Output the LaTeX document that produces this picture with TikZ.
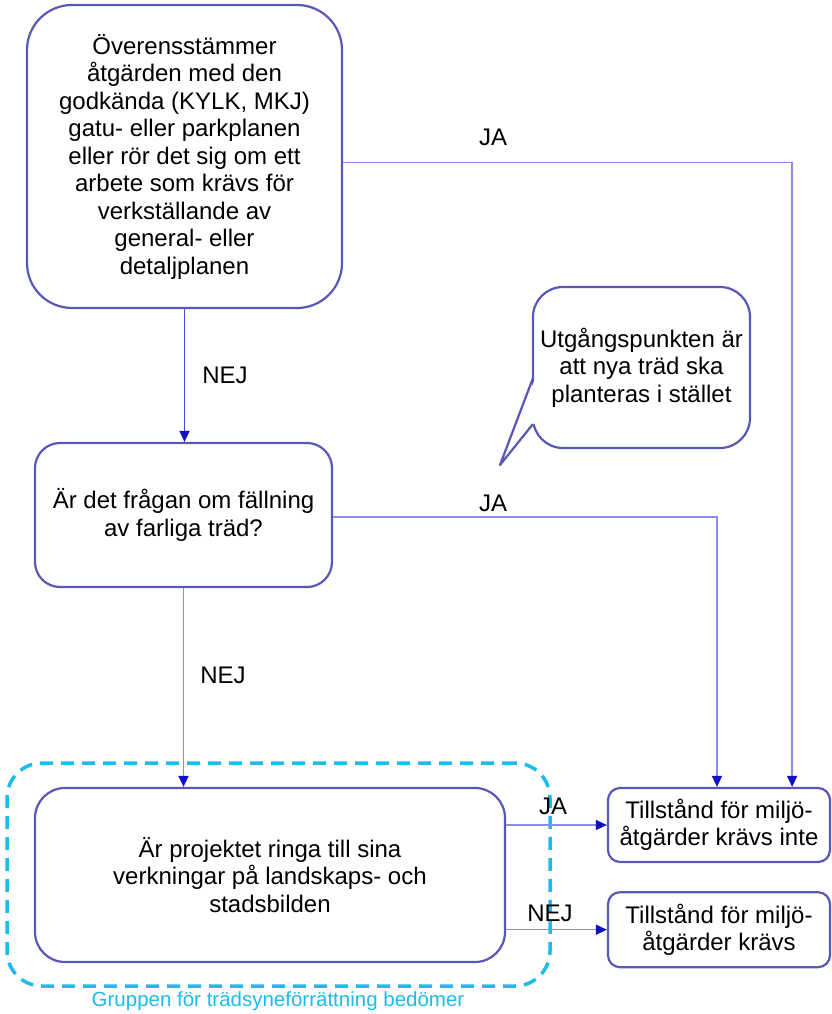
\documentclass[tikz,border=0pt]{standalone}
\usepackage{fontspec}
\setmainfont{Liberation Sans}
\usetikzlibrary{arrows.meta,positioning}

\definecolor{boxblue}{RGB}{88,88,182}
\definecolor{lineblue}{RGB}{140,140,234}
\definecolor{darkline}{RGB}{74,74,214}
\definecolor{tipblue}{RGB}{16,16,200}
\definecolor{groupcyan}{RGB}{30,187,235}

\begin{document}
\begin{tikzpicture}[x=1pt,y=-1pt,
      every node/.style={font=\fontsize{24}{27.5}\selectfont, align=center, inner sep=0pt},
      box/.style={draw=boxblue, line width=2.2pt, fill=white, rounded corners=#1},
      box/.default=25pt,
      flow/.style={draw=lineblue, line width=1.4pt, -{Triangle[length=11pt,width=10pt,color=tipblue]}},
      group/.style={draw=groupcyan, line width=3.5pt, dash pattern=on 13pt off 8pt, rounded corners=35pt}]
    \useasboundingbox (0,0) rectangle (832,1014);
    % Gruppen
    \node (grp) [group, minimum width=543pt, minimum height=223pt] at (278.5,874.5) {};
    \node (grplabel) [text=groupcyan, font=\fontsize{20.5}{24}\selectfont] at (278,1001)
      {Gruppen för trädsyneförrättning bedömer};
    % frågorna
    \node (q1) [box=45pt, minimum width=315pt, minimum height=303pt] at (184.5,156.5)
      {Överensstämmer\\åtgärden med den\\godkända (KYLK, MKJ)\\gatu- eller parkplanen\\eller rör det sig om ett\\arbete som krävs för\\verkställande av\\general- eller\\detaljplanen};
    \node (q2) [box, minimum width=297pt, minimum height=144pt] at (183.5,515)
      {Är det frågan om fällning\\av farliga träd?};
    \node (q3) [box=30pt, minimum width=470pt, minimum height=174pt] at (270,875)
      {Är projektet ringa till sina\\verkningar på landskaps- och\\stadsbilden};
    % svaren
    \node (yes) [box=12pt, minimum width=222pt, minimum height=74pt] at (719,825)
      {Tillstånd för miljö-\\åtgärder krävs inte};
    \node (no) [box=12pt, minimum width=222pt, minimum height=75pt, below=28pt of yes]
      {Tillstånd för miljö-\\åtgärder krävs};
    % pratbubblan
    \node (bubble) [box=30pt, minimum width=217pt, minimum height=161pt] at (641.5,367.5)
      {Utgångspunkten är\\att nya träd ska\\planteras i stället};
    \coordinate (tail) at (500,465);
    \fill[white] (535,379) -- (tail) -- (535,423) -- cycle;
    \draw[boxblue, line width=2.2pt, line join=round] (533,378) -- (tail) -- (533,424);
    % pilarna
    \path[flow, draw=darkline] (q1.south) -- (q1.south |- q2.north);
    \path[flow] ([yshift=-6pt]q1.east) -| ([xshift=-39pt]yes.north east);
    \path[flow] ([yshift=-2pt]q2.east) -| ([xshift=-2pt]yes.north);
    \path[flow] (q2.south) -- (q2.south |- q3.north);
    \path[flow] (q3.east |- yes) -- (yes.west);
    \path[flow] (q3.east |- no) -- (no.west);
    % JA / NEJ
    \node (nej1) at (225,375) {NEJ};
    \node (ja1) at (493,137) {JA};
    \node (ja2) at (493,503) {JA};
    \node (nej2) at (223,675) {NEJ};
    \node (ja3) at (553,806) {JA};
    \node (nej3) at (550,913) {NEJ};
\end{tikzpicture}
\end{document}
